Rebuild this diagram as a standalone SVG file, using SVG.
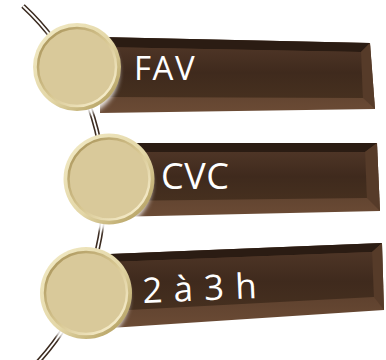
<svg xmlns="http://www.w3.org/2000/svg" width="386" height="360" viewBox="0 0 386 360">
  <defs>
    <linearGradient id="rimOuter" x1="0" y1="0" x2="1" y2="1">
      <stop offset="0" stop-color="#f3ecc8"/>
      <stop offset="0.55" stop-color="#e3d6a6"/>
      <stop offset="1" stop-color="#a8924f"/>
    </linearGradient>
    <linearGradient id="rimInner" x1="0" y1="0" x2="1" y2="1">
      <stop offset="0" stop-color="#a38d52"/>
      <stop offset="0.5" stop-color="#d6c590"/>
      <stop offset="1" stop-color="#fff8dc"/>
    </linearGradient>
    <linearGradient id="face" x1="0" y1="0" x2="0" y2="1">
      <stop offset="0" stop-color="#4e3526"/>
      <stop offset="0.5" stop-color="#3f2a1d"/>
      <stop offset="1" stop-color="#46301f"/>
    </linearGradient>
    <linearGradient id="bevelBottom" x1="0" y1="0" x2="0" y2="1">
      <stop offset="0" stop-color="#4a3223"/>
      <stop offset="1" stop-color="#6b4b35"/>
    </linearGradient>
    <filter id="soft" x="-20%" y="-20%" width="140%" height="140%">
      <feGaussianBlur stdDeviation="2.5"/>
    </filter>
    <style>
      .wire { fill: none; stroke: #3b2b20; stroke-width: 5; }
      .wireCore { fill: none; stroke: #ffffff; stroke-width: 1.8; }
      .bevTop { fill: #2b1c13; }
      .bevRight { fill: #563b29; }
      .bevBottom { fill: url(#bevelBottom); }
      .face { fill: url(#face); }
      .glow { fill: #ffffff; opacity: 0.9; filter: url(#soft); }
      .rim { fill: url(#rimOuter); }
      .ring { fill: #d9c99a; stroke: url(#rimInner); stroke-width: 2.5; }
      .label { fill: #ffffff; font-family: "Open Sans", "Liberation Sans", sans-serif; }
    </style>
  </defs>

  <!-- connector: curved double wire through the three discs -->
  <g id="connectors">
    <path class="wire" d="M 23 6 A 253 253 0 0 1 38 362"/>
    <path class="wireCore" d="M 23 6 A 253 253 0 0 1 38 362"/>
  </g>

  <!-- item 1 -->
  <g id="item1">
    <polygon class="bevBottom" points="100,37 370,43 375,109 100,113"/>
    <polygon class="bevTop" points="100,37 370,43 361,52 100,47"/>
    <polygon class="bevRight" points="370,43 375,109 363,98 361,52"/>
    <polygon class="face" points="100,47 361,52 363,98 100,97"/>
    <ellipse class="glow" cx="74" cy="72" rx="45" ry="45"/>
    <circle class="rim" cx="77" cy="67" r="44"/>
    <circle class="ring" cx="77" cy="67" r="39"/>
    <text class="label" x="134" y="80" font-size="33" letter-spacing="1.5">FAV</text>
  </g>

  <!-- item 2 -->
  <g id="item2">
    <polygon class="bevBottom" points="110,143 377,143 380,211 110,217"/>
    <polygon class="bevTop" points="110,143 377,143 365,152 110,152"/>
    <polygon class="bevRight" points="377,143 380,211 367,198 365,152"/>
    <polygon class="face" points="110,152 365,152 367,198 110,201"/>
    <ellipse class="glow" cx="106" cy="184" rx="46" ry="46"/>
    <circle class="rim" cx="109" cy="179" r="45.5"/>
    <circle class="ring" cx="109" cy="179" r="40.5"/>
    <text class="label" x="161" y="189" font-size="36" letter-spacing="0.5">CVC</text>
  </g>

  <!-- item 3 -->
  <g id="item3">
    <polygon class="bevBottom" points="110,254 382,243 384,310 110,328"/>
    <polygon class="bevTop" points="110,254 382,243 372,252 110,262"/>
    <polygon class="bevRight" points="382,243 384,310 374,297 372,252"/>
    <polygon class="face" points="110,262 372,252 374,297 110,311"/>
    <ellipse class="glow" cx="83" cy="298" rx="46" ry="46"/>
    <circle class="rim" cx="86" cy="293" r="46"/>
    <circle class="ring" cx="86" cy="293" r="41"/>
    <text class="label" x="143" y="303" font-size="35" letter-spacing="1" transform="rotate(-2.5 143 303)">2 à 3 h</text>
  </g>
</svg>
